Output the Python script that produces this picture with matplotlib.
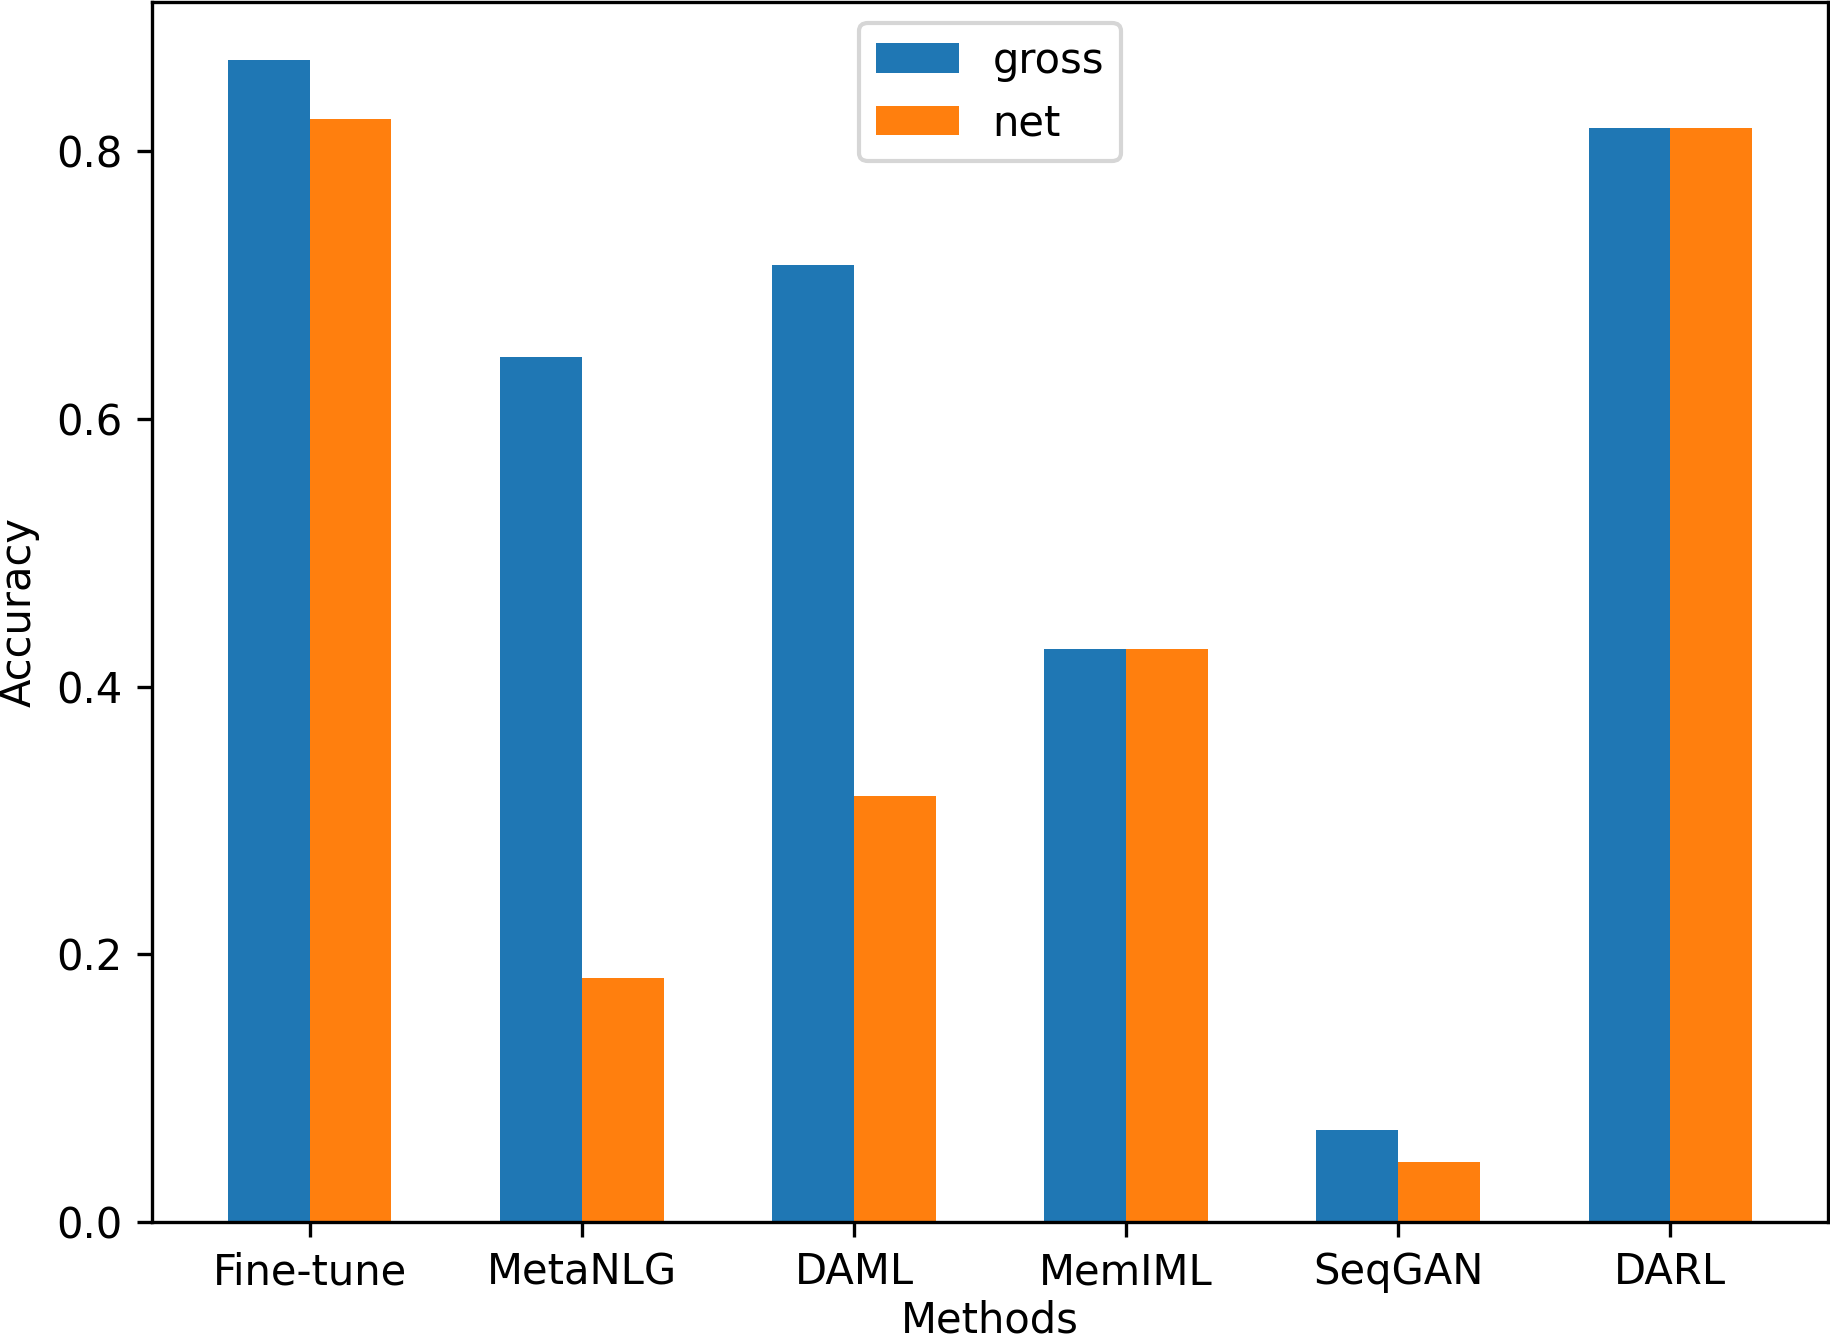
import numpy as np
import matplotlib
matplotlib.use('Agg')
import matplotlib.pyplot as plt

# ====================== 数据 ======================
methods = ['Fine-tune', 'MetaNLG', 'DAML', 'MemIML', 'SeqGAN', 'DARL']
gross = [0.868, 0.646, 0.715, 0.428, 0.069, 0.817]
net = [0.824, 0.182, 0.318, 0.428, 0.045, 0.817]

BAR_WIDTH = 0.3

# ====================== 绘图 ======================
plt.rcParams['font.size'] = 10

fig = plt.figure(figsize=(1830 / 300, 1342 / 300), dpi=300)
ax = fig.add_axes([152 / 1830, 120 / 1342, (1828 - 152) / 1830, (1340 - 120) / 1342])

x = np.arange(len(methods))
ax.bar(x - BAR_WIDTH / 2, gross, BAR_WIDTH, label='gross')
ax.bar(x + BAR_WIDTH / 2, net, BAR_WIDTH, label='net')

ax.set_xticks(x)
ax.set_xticklabels(methods)
ax.set_xlabel('Methods', labelpad=1.5)
ax.set_ylabel('Accuracy')
ax.legend(loc='upper center')

fig.savefig('out.png', dpi=300)
